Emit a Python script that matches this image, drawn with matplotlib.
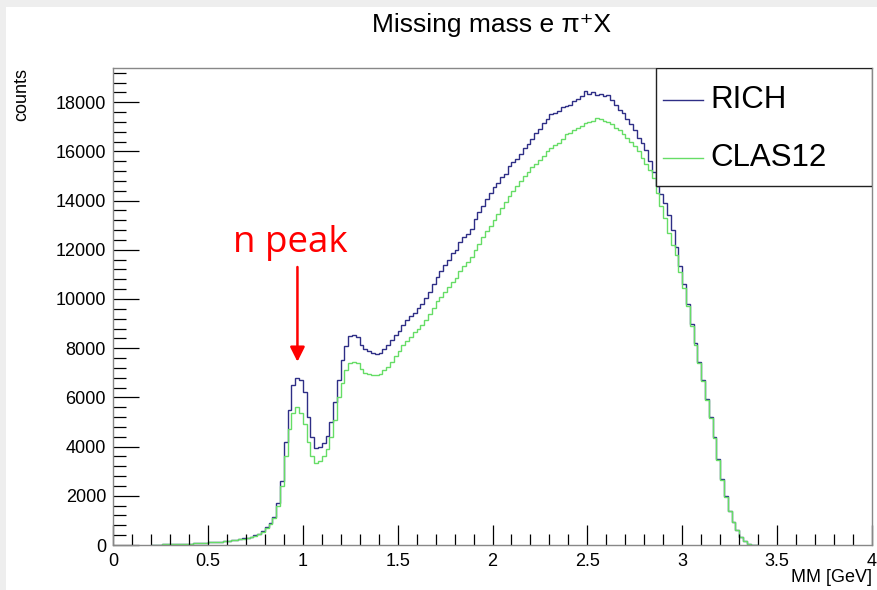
import numpy as np
import matplotlib
matplotlib.use('Agg')
import matplotlib.pyplot as plt
from matplotlib.patches import Rectangle

# histogram binning (MM in GeV), bin width 0.02 starting at 0.20
bin_start = 0.20
bin_width = 0.02

rich = [
    10, 15, 20, 25, 30, 35, 40, 45, 50, 55,
    60, 70, 75, 85, 95, 105, 115, 130, 140, 160,
    170, 190, 215, 240, 270, 300, 340, 390, 450, 560,
    720, 900, 1150, 1700, 2600, 4200, 5500, 6500, 6800, 6700,
    6200, 5200, 4400, 3950, 4000, 4150, 4450, 5000, 5800, 6700,
    7500, 8100, 8500, 8550, 8450, 8150, 7950, 7900, 7800, 7750,
    7800, 7950, 8150, 8350, 8550, 8700, 8950, 9150, 9300, 9450,
    9650, 9800, 10050, 10300, 10600, 10900, 11150, 11400, 11600, 11850,
    12000, 12300, 12500, 12650, 12850, 13250, 13550, 13800, 14050, 14300,
    14550, 14700, 14950, 15100, 15400, 15550, 15700, 15900, 16150, 16300,
    16500, 16750, 16900, 17150, 17300, 17500, 17550, 17650, 17800, 17850,
    17900, 18050, 18150, 18250, 18450, 18350, 18400, 18300, 18350, 18250,
    18300, 18100, 17900, 17700, 17550, 17300, 17100, 16850, 16550, 16350,
    16050, 15600, 15150, 14600, 14250, 13900, 13400, 12800, 12100, 11350,
    10600, 9800, 9000, 8200, 7450, 6700, 5950, 5200, 4400, 3500,
    2700, 2000, 1400, 950, 600, 330, 150, 60, 15, 0,
]

clas12 = [
    10, 15, 20, 24, 29, 34, 39, 44, 48, 53,
    58, 68, 73, 82, 92, 102, 112, 126, 136, 155,
    165, 184, 208, 233, 262, 291, 330, 378, 436, 540,
    700, 860, 1100, 1600, 2400, 3600, 4700, 5350, 5600, 5350,
    4900, 4200, 3600, 3350, 3400, 3600, 3900, 4400, 5100, 6000,
    6600, 7100, 7400, 7450, 7400, 7150, 7000, 6950, 6900, 6900,
    6950, 7100, 7250, 7450, 7700, 7900, 8150, 8300, 8450, 8650,
    8800, 8950, 9150, 9400, 9650, 9900, 10100, 10300, 10500, 10700,
    10850, 11150, 11350, 11500, 11700, 12000, 12250, 12500, 12750, 12950,
    13200, 13450, 13700, 13950, 14200, 14400, 14600, 14800, 15000, 15150,
    15350, 15500, 15650, 15800, 16000, 16150, 16250, 16350, 16500, 16700,
    16750, 16850, 16950, 17050, 17150, 17200, 17250, 17350, 17300, 17250,
    17200, 17100, 16950, 16850, 16700, 16550, 16400, 16200, 16000, 15750,
    15500, 15250, 14900, 14300, 13800, 13300, 12700, 12200, 11800, 11100,
    10450, 9700, 8900, 8150, 7400, 6650, 5900, 5150, 4350, 3450,
    2650, 1950, 1380, 930, 590, 320, 150, 60, 20, 0,
]

edges = bin_start + bin_width * np.arange(len(rich) + 1)

BLUE = '#2e2e86'
GREEN = '#66dd66'
FONT = ['Liberation Sans', 'DejaVu Sans']
plt.rcParams['font.family'] = FONT

fig = plt.figure(figsize=(8.77, 5.90), dpi=100)
fig.patch.set_facecolor('#eeeeee')
fig.patches.append(Rectangle((6 / 877, 0), 1, 1 - 7 / 590, transform=fig.transFigure,
                             facecolor='white', edgecolor='none', zorder=-10))

ax = fig.add_axes([113 / 877, 1 - 545 / 590, 759 / 877, 477 / 590])
ax.stairs(rich, edges, color=BLUE, lw=1.0)
ax.stairs(clas12, edges, color=GREEN, lw=1.0)

ax.set_xlim(0, 4)
ax.set_ylim(0, 19390)
ax.set_xticks(np.arange(0, 4.01, 0.5))
ax.set_xticklabels(['0', '0.5', '1', '1.5', '2', '2.5', '3', '3.5', '4'])
ax.set_xticks(np.arange(0, 4.01, 0.1), minor=True)
ax.set_yticks(np.arange(0, 18001, 2000))
ax.set_yticks(np.arange(0, 19390, 400), minor=True)
for s in ax.spines.values():
    s.set_color('#888888')
    s.set_linewidth(1.0)
ax.tick_params(which='both', direction='in', top=False, right=False,
               labelsize=13, colors='black')
ax.tick_params(axis='x', which='major', length=14.5, width=0.9, pad=6)
ax.tick_params(axis='x', which='minor', length=8, width=0.9)
ax.tick_params(axis='y', which='major', length=18.5, width=0.9, pad=5)
ax.tick_params(axis='y', which='minor', length=9.5, width=0.9)

# legend box drawn like ROOT's TLegend
ax.add_patch(Rectangle((0.715, 0.7526), 0.285, 0.2474, transform=ax.transAxes,
                       facecolor='white', edgecolor='#222222', lw=1.0, zorder=5))
ax.plot([0.7246, 0.7773], [0.933, 0.933], transform=ax.transAxes, color=BLUE, lw=1, zorder=6)
ax.plot([0.7246, 0.7773], [0.811, 0.811], transform=ax.transAxes, color=GREEN, lw=1, zorder=6)
ax.text(0.787, 0.933, 'RICH', transform=ax.transAxes, fontsize=22.5, va='center', zorder=6)
ax.text(0.787, 0.811, 'CLAS12', transform=ax.transAxes, fontsize=22.5, va='center', zorder=6)

# annotation
ax.annotate('', xy=(0.972, 7450), xytext=(0.972, 11300),
            arrowprops=dict(arrowstyle='-|>', color='#ff0000', lw=1.8,
                            mutation_scale=22, shrinkA=0, shrinkB=0))
ax.text(0.935, 12270, 'n peak', color='#ff0000', fontsize=26.5,
        family=['Open Sans', 'DejaVu Sans'], ha='center', va='center')

fig.text(0.561, 1 - 25 / 590, 'Missing mass e \u03c0\u207aX', fontsize=19,
         ha='center', va='center')
fig.text(22 / 877, 1 - 68 / 590, 'counts', rotation=90, fontsize=13,
         ha='center', va='top')
fig.text(872 / 877, 1 - 578 / 590, 'MM [GeV]', fontsize=13, ha='right', va='center')

fig.savefig('out.png', dpi=100)
